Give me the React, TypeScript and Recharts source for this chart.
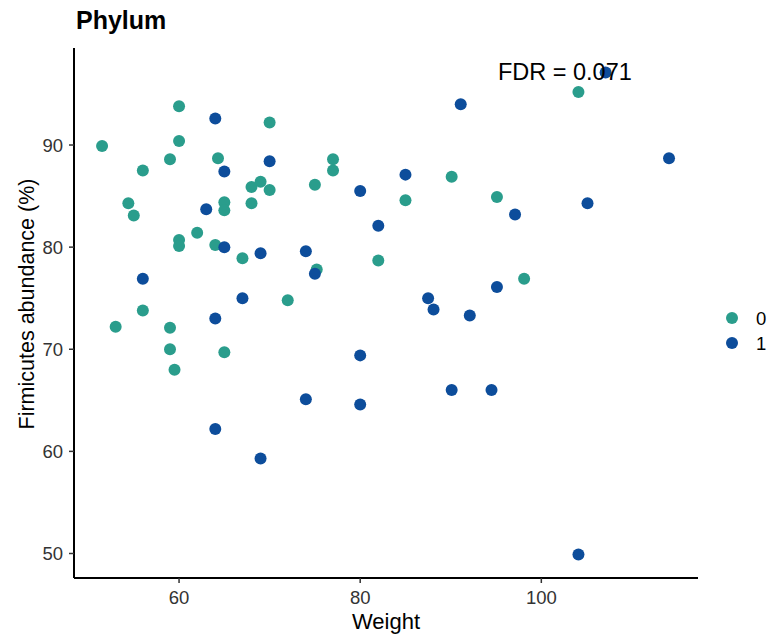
import React from "react";
import {
  ScatterChart,
  Scatter,
  XAxis,
  YAxis,
  Legend,
  ReferenceDot,
} from "recharts";

const FONT = "'Liberation Sans', Arial, Helvetica, sans-serif";

const groupNames = ["0", "1"];
const groupColors = ["#2a9d8c", "#0d4d9b"];

const weight0 = [
  60, 51.5, 60, 59.0, 64.3, 70.0, 56.0, 68.0, 69.0, 70.0, 54.4, 55.0, 65.0, 65.0,
  68.0, 62.0, 60, 60, 64.0, 67.0, 72.0, 56, 104.1, 77.0, 77.0, 75.0, 90.1, 85.0,
  95.1, 82.0, 75.2, 98.1, 53.0, 59.0, 59.0, 65.0, 59.5,
];
const abundance0 = [
  93.8, 89.9, 90.4, 88.6, 88.7, 92.2, 87.5, 85.9, 86.4, 85.6, 84.3, 83.1, 84.4,
  83.6, 84.3, 81.4, 80.7, 80.1, 80.2, 78.9, 74.8, 73.8, 95.2, 88.6, 87.5, 86.1,
  86.9, 84.6, 84.9, 78.7, 77.8, 76.9, 72.2, 72.1, 70.0, 69.7, 68.0,
];

const weight1 = [
  64, 70, 65, 63, 65, 69, 74, 56, 67, 64, 107.1, 91.1, 114.1, 85.0, 80.0, 105.1,
  97.1, 82.0, 75.0, 95.1, 87.5, 88.1, 92.1, 80.0, 74.0, 80.0, 90.1, 94.5, 64, 69,
  104.1,
];
const abundance1 = [
  92.6, 88.4, 87.4, 83.7, 80.0, 79.4, 79.6, 76.9, 75.0, 73.0, 97.1, 94.0, 88.7,
  87.1, 85.5, 84.3, 83.2, 82.1, 77.4, 76.1, 75.0, 73.9, 73.3, 69.4, 65.1, 64.6,
  66.0, 66.0, 62.2, 59.3, 49.9,
];

const xTicks = [60, 80, 100];
const yTicks = [50, 60, 70, 80, 90];

const titleText = "Phylum";
const xLabel = "Weight";
const yLabel = "Firmicutes abundance (%)";
const fdrText = "FDR = 0.071";
const fdrPos = { x: 102.6, y: 96.38 };

const data0 = weight0.map((w, i) => ({ weight: w, abundance: abundance0[i] }));
const data1 = weight1.map((w, i) => ({ weight: w, abundance: abundance1[i] }));

const makeShape = (color: string) => (props: any) => (
  <circle cx={props.cx} cy={props.cy} r={6} fill={color} />
);

const YLabelContent = (props: any) => {
  const vb = props.viewBox || { x: 0, y: 48, width: 74, height: 530 };
  const cx = 33.5;
  const cy = vb.y + vb.height / 2 - 9;
  return (
    <text
      x={cx}
      y={cy}
      transform={`rotate(-90, ${cx}, ${cy})`}
      textAnchor="middle"
      fontSize={21.5}
      fill="#000"
      fontFamily={FONT}
    >
      {yLabel}
    </text>
  );
};

const FdrContent = (props: any) => {
  const vb = props.viewBox;
  const x = vb.x + vb.width / 2;
  const y = vb.y + vb.height / 2;
  return (
    <text x={x} y={y} textAnchor="middle" fontSize={23.5} fill="#000" fontFamily={FONT}>
      {fdrText}
    </text>
  );
};

const LegendContent = (props: any) => {
  const payload = props.payload || [];
  return (
    <svg width={48} height={50} style={{ display: "block" }}>
      {payload.map((e: any, i: number) => (
        <g key={i}>
          <circle cx={12} cy={12 + 25 * i} r={6} fill={e.color} />
          <text
            x={36}
            y={12 + 25 * i}
            dy="0.36em"
            fontSize={18.5}
            fill="#000"
            fontFamily={FONT}
          >
            {e.value}
          </text>
        </g>
      ))}
    </svg>
  );
};

export default function App() {
  return (
    <div style={{ position: "absolute", left: 0, top: 0, width: 768, height: 635, background: "#fff" }}>
      <ScatterChart
        width={768}
        height={635}
        margin={{ top: 48, right: 22, bottom: 0, left: 0 }}
        style={{ fontFamily: FONT }}
      >
        <XAxis
          type="number"
          dataKey="weight"
          domain={[48.4, 117.3]}
          ticks={xTicks}
          allowDataOverflow
          height={57}
          axisLine={{ stroke: "#000", strokeWidth: 2 }}
          tickLine={{ stroke: "#333", strokeWidth: 1.5 }}
          tickSize={5}
          tickMargin={8}
          tick={{ fontSize: 18.5, fill: "#333", fontFamily: FONT }}
          label={{
            value: xLabel,
            position: "insideBottom",
            offset: 6,
            fontSize: 22,
            fill: "#000",
            fontFamily: FONT,
          }}
        />
        <YAxis
          type="number"
          dataKey="abundance"
          domain={[47.6, 99.5]}
          ticks={yTicks}
          allowDataOverflow
          width={74}
          axisLine={{ stroke: "#000", strokeWidth: 2 }}
          tickLine={{ stroke: "#333", strokeWidth: 1.5 }}
          tickSize={5}
          tickMargin={6}
          tick={{ fontSize: 18.5, fill: "#333", fontFamily: FONT }}
          label={YLabelContent}
        />
        <Legend
          layout="vertical"
          align="right"
          verticalAlign="middle"
          content={LegendContent}
          wrapperStyle={{ position: "absolute", left: 720, top: 305.7, width: 48, height: 50 }}
        />
        <Scatter
          name={groupNames[0]}
          data={data0}
          fill={groupColors[0]}
          shape={makeShape(groupColors[0])}
          isAnimationActive={false}
        />
        <Scatter
          name={groupNames[1]}
          data={data1}
          fill={groupColors[1]}
          shape={makeShape(groupColors[1])}
          isAnimationActive={false}
        />
        <ReferenceDot
          x={fdrPos.x}
          y={fdrPos.y}
          r={1}
          fillOpacity={0}
          strokeOpacity={0}
          label={FdrContent}
        />
      </ScatterChart>
      <svg
        width={768}
        height={40}
        style={{ position: "absolute", left: 0, top: 0, pointerEvents: "none" }}
      >
        <text x={76} y={29} fontSize={25} fontWeight="bold" fill="#000" fontFamily={FONT}>
          {titleText}
        </text>
      </svg>
    </div>
  );
}
